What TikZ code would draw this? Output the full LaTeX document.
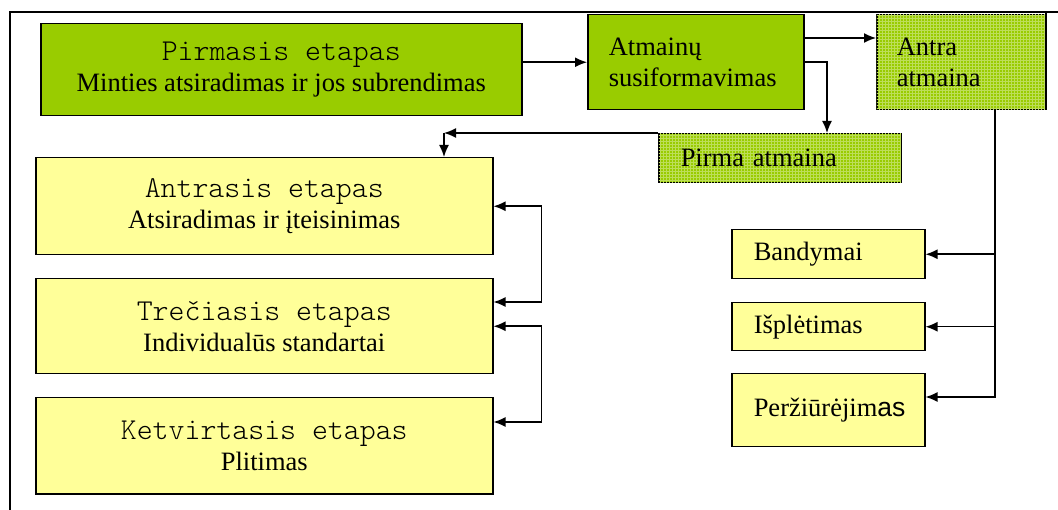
\documentclass[tikz,border=0pt]{standalone}
\usepackage{fontspec}
\setmainfont{Liberation Serif}
\setsansfont{Liberation Sans}
\newfontfamily\courfont{lmmonolt10-regular.otf}[Scale=1.145]
\usetikzlibrary{arrows.meta}
\usetikzlibrary{calc,patterns}
\usepackage{xcolor}
\definecolor{limegr}{RGB}{153,204,0}
\definecolor{paleyel}{RGB}{255,255,153}

\tikzset{
  box/.style={draw, rectangle, anchor=north west, inner sep=0pt},
  stagebox/.style={box, fill=paleyel, align=center},
  leftbox/.style={box, inner xsep=#1, align=left},
  hatchbox/.style={fill=limegr, postaction={pattern=grid, pattern color=white!35!limegr}}
}

\begin{document}
\begin{tikzpicture}[x=1pt, y=-1pt, >={Latex[length=12pt,width=10pt]}, line width=1.5pt,
    every node/.style={font=\fontsize{26.5}{31}\selectfont}]
      \useasboundingbox (0,0) rectangle (1058,510);

      % frame
      \draw (10,510) -- (10,12) -- (1058,12);
      \draw (1046,12) -- (1046,110);

      % stages
      \node [stagebox, fill=limegr, minimum width=481pt, minimum height=92pt,
      name=pirmasis] at (40,23) {{\courfont Pirmasis etapas}\\Minties atsiradimas ir jos subrendimas};
      \node [stagebox, minimum width=457pt, minimum height=97pt,
      name=antrasis] at (35,157) {{\courfont Antrasis etapas}\\Atsiradimas ir įteisinimas};
      \node [stagebox, minimum width=457pt, minimum height=95pt,
      name=treciasis] at (35,278) {{\courfont Trečiasis etapas}\\Individualūs standartai};
      \node [stagebox, minimum width=457pt, minimum height=96pt,
      name=ketvirtasis] at (35,397) {{\courfont Ketvirtasis etapas}\\Plitimas};

      % variants
      \node [leftbox=21pt, fill=limegr, text width=174pt, minimum height=95pt,
      name=atmainu] at (587,14) {Atmainų\\susiformavimas};
      \node [leftbox=20pt, hatchbox, text width=128pt, minimum height=95pt,
      name=antra] at (876,14) {Antra\\atmaina};
      \node [leftbox=22pt, hatchbox, text width=198pt, minimum height=49pt,
      name=pirma] at (658,133) {Pirma atmaina};

      % second variant steps
      \node [leftbox=22pt, fill=paleyel, text width=149pt, minimum height=49pt,
      name=bandymai] at (731,229) {Bandymai};
      \node [leftbox=22pt, fill=paleyel, text width=149pt, minimum height=48pt,
      name=isplet] at (731,302) {Išplėtimas};
      \node [leftbox=22pt, fill=paleyel, text width=149pt, minimum height=73pt,
      name=perziur] at (731,373) {Peržiūrėjim{\sffamily as}};

      % connectors
      \draw [->] (pirmasis.east |- atmainu.west) -- (atmainu.west);
      \draw [->] ($(atmainu.north east) + (0,24)$) -- ($(antra.north west) + (0,24)$);
      \draw [->] (atmainu.east) -| ($(pirma.north west) + (169,0)$);

      \coordinate (turn) at ($(pirma.north west) + (-214,0)$);
      \draw [->] (pirma.north west) -- (turn);
      \draw [->] (turn) -- (turn |- antrasis.north);

      \draw [<->] (antrasis.east) -- ++(48,0) |- ($(treciasis.north east) + (0,24)$);
      \draw [<->] (treciasis.east) -- ++(48,0) |- ($(ketvirtasis.north east) + (0,25)$);

      \coordinate (antraout) at ($(antra.south west) + (119,0)$);
      \draw [->] (antraout) |- (bandymai.east);
      \draw [->] (antraout) |- (isplet.east);
      \draw [->] (antraout) |- ($(perziur.north east) + (0,24)$);
    \end{tikzpicture}
\end{document}
